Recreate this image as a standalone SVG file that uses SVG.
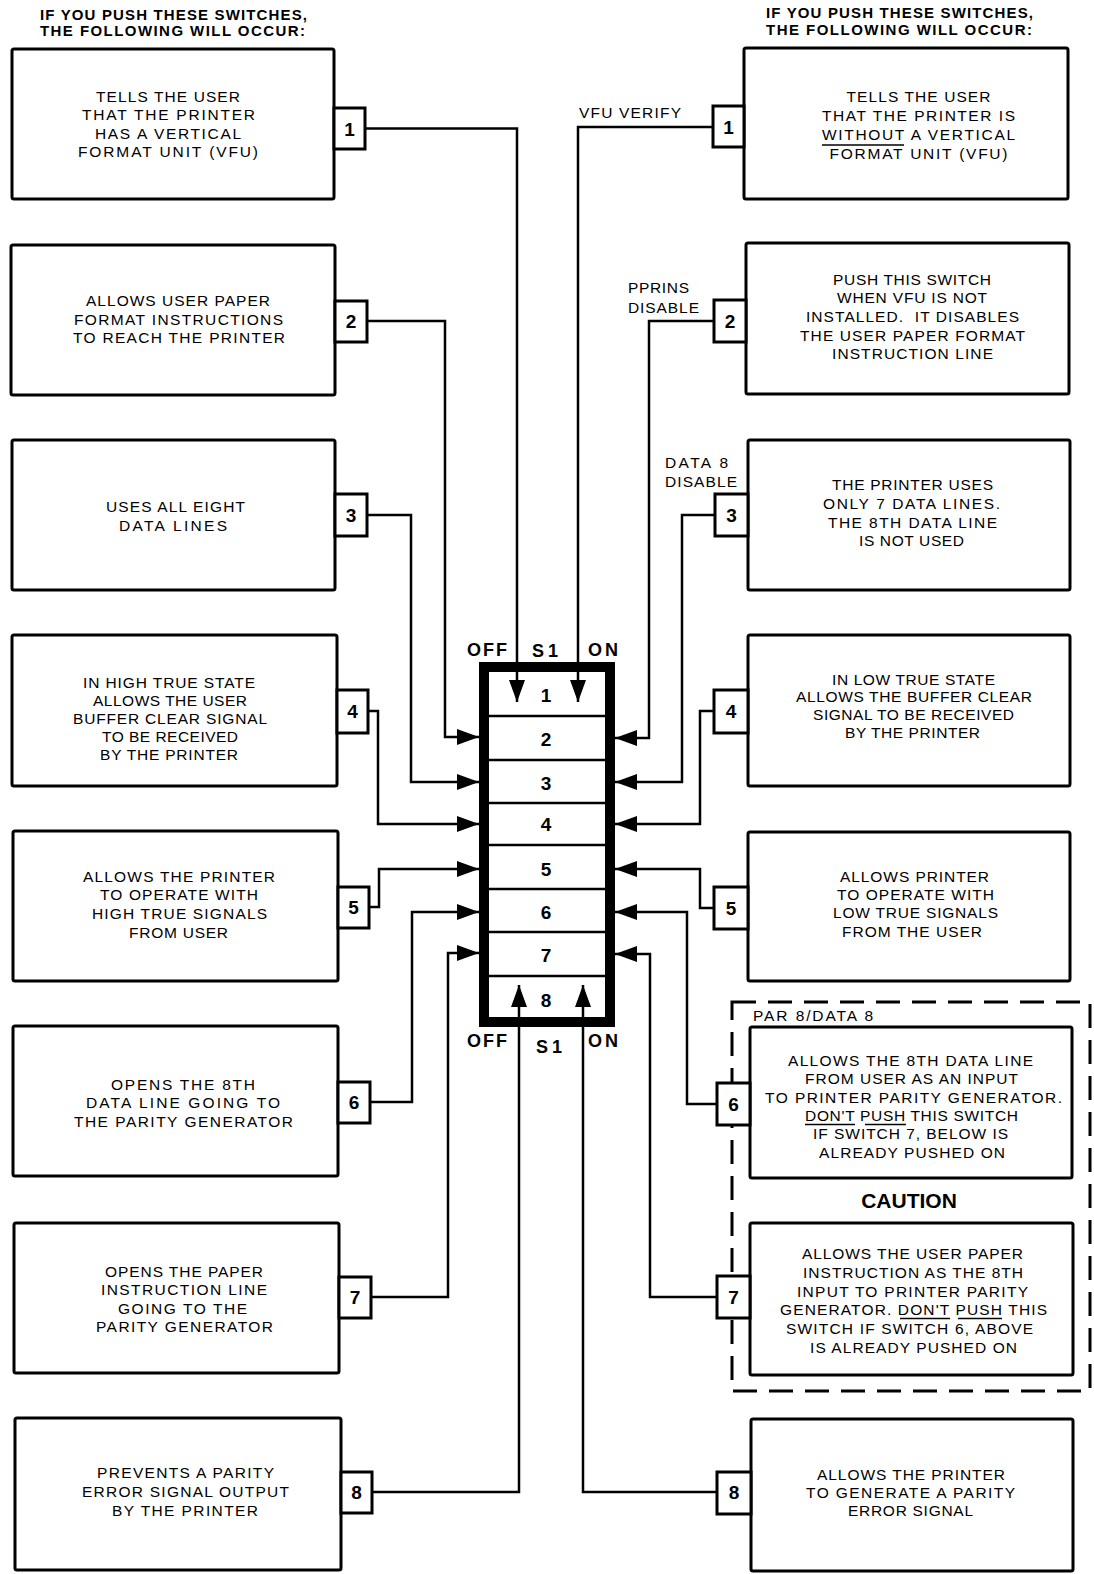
<svg xmlns="http://www.w3.org/2000/svg" width="1094" height="1574" viewBox="0 0 1094 1574">
<style>
.bg{fill:#fff}
.box{fill:#fff;stroke:#000;stroke-width:3;stroke-linejoin:round}
.tab{fill:#fff;stroke:#000;stroke-width:3}
.t{font-family:"Liberation Sans",Arial,sans-serif;font-size:15.5px;fill:#000}
.h{font-family:"Liberation Sans",Arial,sans-serif;font-size:15px;font-weight:bold;fill:#000}
.n{font-family:"Liberation Sans",Arial,sans-serif;font-size:19px;font-weight:bold;fill:#000;text-anchor:middle}
.s{font-family:"Liberation Sans",Arial,sans-serif;font-size:18px;font-weight:bold;fill:#000}
.ul{stroke:#000;stroke-width:1.6}
.conn{fill:none;stroke:#000;stroke-width:2.5;marker-end:url(#ah)}
.dash{fill:none;stroke:#000;stroke-width:3;stroke-dasharray:24 12}
</style>
<defs>
<marker id="ah" markerUnits="userSpaceOnUse" markerWidth="22" markerHeight="16" refX="22" refY="8" orient="auto"><path d="M0,0 L22,8 L0,16 Z" fill="#000"/></marker>
</defs>
<rect class="bg" x="0" y="0" width="1094" height="1574"/>

<g id="headers">
<text class="h" x="40" y="20" textLength="267" lengthAdjust="spacing">IF YOU PUSH THESE SWITCHES,</text>
<text class="h" x="40" y="36" textLength="265" lengthAdjust="spacing">THE FOLLOWING WILL OCCUR:</text>
<text class="h" x="766" y="18" textLength="267" lengthAdjust="spacing">IF YOU PUSH THESE SWITCHES,</text>
<text class="h" x="766" y="35" textLength="266" lengthAdjust="spacing">THE FOLLOWING WILL OCCUR:</text>
</g>

<g id="dashed-group">
<rect class="dash" x="732" y="1002" width="358" height="389"/>
<text class="t" x="753" y="1021" textLength="120" lengthAdjust="spacing">PAR 8/DATA 8</text>
<text x="909" y="1208" font-family="Liberation Sans, Arial, sans-serif" font-size="21" font-weight="bold" text-anchor="middle">CAUTION</text>
</g>

<g id="switch">
<rect x="484" y="667" width="126" height="355" fill="#fff" stroke="#000" stroke-width="10"/>
<g stroke="#000" stroke-width="2.5">
<line x1="489" y1="716" x2="605" y2="716"/>
<line x1="489" y1="760" x2="605" y2="760"/>
<line x1="489" y1="803" x2="605" y2="803"/>
<line x1="489" y1="845" x2="605" y2="845"/>
<line x1="489" y1="889" x2="605" y2="889"/>
<line x1="489" y1="932" x2="605" y2="932"/>
<line x1="489" y1="976" x2="605" y2="976"/>
</g>
<text class="n" x="546" y="702">1</text>
<text class="n" x="546" y="746">2</text>
<text class="n" x="546" y="790">3</text>
<text class="n" x="546" y="831">4</text>
<text class="n" x="546" y="876">5</text>
<text class="n" x="546" y="919">6</text>
<text class="n" x="546" y="962">7</text>
<text class="n" x="546" y="1007">8</text>
<text class="s" x="467" y="656" letter-spacing="2">OFF</text>
<text class="s" x="532" y="657" font-size="25" letter-spacing="4">S1</text>
<text class="s" x="588" y="656" letter-spacing="3">ON</text>
<text class="s" x="467" y="1047" letter-spacing="2">OFF</text>
<text class="s" x="536" y="1053" font-size="25" letter-spacing="4">S1</text>
<text class="s" x="588" y="1047" letter-spacing="3">ON</text>
</g>

<g id="L1">
<rect class="box" x="12" y="49" width="322" height="150" rx="2"/>
<rect class="tab" x="334" y="108" width="31" height="41"/>
<text class="n" x="349.5" y="135.5">1</text>
<text class="t" x="96" y="102" textLength="144" lengthAdjust="spacing">TELLS THE USER</text>
<text class="t" x="82" y="120" textLength="173" lengthAdjust="spacing">THAT THE PRINTER</text>
<text class="t" x="95" y="138.5" textLength="146" lengthAdjust="spacing">HAS A VERTICAL</text>
<text class="t" x="78" y="157" textLength="180" lengthAdjust="spacing">FORMAT UNIT (VFU)</text>
</g>
<g id="L2">
<rect class="box" x="11" y="245" width="324" height="150" rx="2"/>
<rect class="tab" x="335" y="301" width="32" height="41"/>
<text class="n" x="351" y="328">2</text>
<text class="t" x="86" y="306" textLength="184" lengthAdjust="spacing">ALLOWS USER PAPER</text>
<text class="t" x="74" y="324.5" textLength="209" lengthAdjust="spacing">FORMAT INSTRUCTIONS</text>
<text class="t" x="73" y="343" textLength="212" lengthAdjust="spacing">TO REACH THE PRINTER</text>
</g>
<g id="L3">
<rect class="box" x="12" y="440" width="323" height="150" rx="2"/>
<rect class="tab" x="335" y="494" width="32" height="42"/>
<text class="n" x="351" y="522">3</text>
<text class="t" x="106" y="512" textLength="139" lengthAdjust="spacing">USES ALL EIGHT</text>
<text class="t" x="119" y="530.5" textLength="108" lengthAdjust="spacing">DATA LINES</text>
</g>
<g id="L4">
<rect class="box" x="12" y="635" width="325" height="151" rx="2"/>
<rect class="tab" x="337" y="690" width="31" height="43"/>
<text class="n" x="352.5" y="718">4</text>
<text class="t" x="83" y="688" textLength="172" lengthAdjust="spacing">IN HIGH TRUE STATE</text>
<text class="t" x="93" y="706" textLength="154" lengthAdjust="spacing">ALLOWS THE USER</text>
<text class="t" x="73" y="723.5" textLength="194" lengthAdjust="spacing">BUFFER CLEAR SIGNAL</text>
<text class="t" x="102" y="741.5" textLength="136" lengthAdjust="spacing">TO BE RECEIVED</text>
<text class="t" x="100" y="759.5" textLength="138" lengthAdjust="spacing">BY THE PRINTER</text>
</g>
<g id="L5">
<rect class="box" x="13" y="831" width="325" height="150" rx="2"/>
<rect class="tab" x="338" y="887" width="31" height="41"/>
<text class="n" x="353.5" y="914">5</text>
<text class="t" x="83" y="882" textLength="192" lengthAdjust="spacing">ALLOWS THE PRINTER</text>
<text class="t" x="100" y="900" textLength="158" lengthAdjust="spacing">TO OPERATE WITH</text>
<text class="t" x="92" y="919" textLength="175" lengthAdjust="spacing">HIGH TRUE SIGNALS</text>
<text class="t" x="129" y="938" textLength="99" lengthAdjust="spacing">FROM USER</text>
</g>
<g id="L6">
<rect class="box" x="13" y="1026" width="325" height="150" rx="2"/>
<rect class="tab" x="338" y="1082" width="32" height="41"/>
<text class="n" x="354" y="1109">6</text>
<text class="t" x="111" y="1089.5" textLength="144" lengthAdjust="spacing">OPENS THE 8TH</text>
<text class="t" x="86" y="1108" textLength="194" lengthAdjust="spacing">DATA LINE GOING TO</text>
<text class="t" x="74" y="1126.5" textLength="219" lengthAdjust="spacing">THE PARITY GENERATOR</text>
</g>
<g id="L7">
<rect class="box" x="14" y="1223" width="325" height="150" rx="2"/>
<rect class="tab" x="339" y="1277" width="32" height="41"/>
<text class="n" x="355" y="1304">7</text>
<text class="t" x="105" y="1276.5" textLength="158" lengthAdjust="spacing">OPENS THE PAPER</text>
<text class="t" x="101" y="1294.5" textLength="166" lengthAdjust="spacing">INSTRUCTION LINE</text>
<text class="t" x="118" y="1313.5" textLength="129" lengthAdjust="spacing">GOING TO THE</text>
<text class="t" x="96" y="1331.5" textLength="177" lengthAdjust="spacing">PARITY GENERATOR</text>
</g>
<g id="L8">
<rect class="box" x="15" y="1418" width="326" height="152" rx="2"/>
<rect class="tab" x="341" y="1472" width="31" height="41"/>
<text class="n" x="356.5" y="1499">8</text>
<text class="t" x="97" y="1477.5" textLength="177" lengthAdjust="spacing">PREVENTS A PARITY</text>
<text class="t" x="82" y="1497" textLength="207" lengthAdjust="spacing">ERROR SIGNAL OUTPUT</text>
<text class="t" x="112" y="1515.5" textLength="146" lengthAdjust="spacing">BY THE PRINTER</text>
</g>

<g id="R1">
<rect class="box" x="744" y="48" width="324" height="151" rx="2"/>
<rect class="tab" x="713" y="106" width="31" height="41"/>
<text class="n" x="728.5" y="134">1</text>
<text class="t" x="846.5" y="102" textLength="144" lengthAdjust="spacing">TELLS THE USER</text>
<text class="t" x="822" y="121" textLength="193" lengthAdjust="spacing">THAT THE PRINTER IS</text>
<text class="t" x="822" y="139.5" textLength="193" lengthAdjust="spacing">WITHOUT A VERTICAL</text>
<line class="ul" x1="822" y1="145" x2="904" y2="145"/>
<text class="t" x="829.5" y="158.5" textLength="178" lengthAdjust="spacing">FORMAT UNIT (VFU)</text>
<text class="t" x="579" y="118" textLength="102" lengthAdjust="spacing">VFU VERIFY</text>
</g>
<g id="R2">
<rect class="box" x="746" y="243" width="323" height="151" rx="2"/>
<rect class="tab" x="714" y="300" width="32" height="42"/>
<text class="n" x="730" y="328">2</text>
<text class="t" x="833" y="285" textLength="158" lengthAdjust="spacing">PUSH THIS SWITCH</text>
<text class="t" x="837" y="303" textLength="150" lengthAdjust="spacing">WHEN VFU IS NOT</text>
<text class="t" x="806" y="322" textLength="213" lengthAdjust="spacing" xml:space="preserve">INSTALLED.  IT DISABLES</text>
<text class="t" x="800" y="341" textLength="225" lengthAdjust="spacing">THE USER PAPER FORMAT</text>
<text class="t" x="832" y="359" textLength="161" lengthAdjust="spacing">INSTRUCTION LINE</text>
<text class="t" x="628" y="293" textLength="61" lengthAdjust="spacing">PPRINS</text>
<text class="t" x="628" y="313" textLength="71" lengthAdjust="spacing">DISABLE</text>
</g>
<g id="R3">
<rect class="box" x="748" y="440" width="322" height="150" rx="2"/>
<rect class="tab" x="715" y="494" width="33" height="42"/>
<text class="n" x="731.5" y="522">3</text>
<text class="t" x="832" y="490" textLength="161" lengthAdjust="spacing">THE PRINTER USES</text>
<text class="t" x="823" y="509" textLength="177" lengthAdjust="spacing">ONLY 7 DATA LINES.</text>
<text class="t" x="828" y="528" textLength="169" lengthAdjust="spacing">THE 8TH DATA LINE</text>
<text class="t" x="859" y="546" textLength="105" lengthAdjust="spacing">IS NOT USED</text>
<text class="t" x="665" y="468" textLength="63" lengthAdjust="spacing">DATA 8</text>
<text class="t" x="665" y="487" textLength="72" lengthAdjust="spacing">DISABLE</text>
</g>
<g id="R4">
<rect class="box" x="748" y="635" width="322" height="151" rx="2"/>
<rect class="tab" x="714" y="690" width="34" height="43"/>
<text class="n" x="731" y="718">4</text>
<text class="t" x="832" y="685" textLength="163" lengthAdjust="spacing">IN LOW TRUE STATE</text>
<text class="t" x="796" y="702" textLength="236" lengthAdjust="spacing">ALLOWS THE BUFFER CLEAR</text>
<text class="t" x="813" y="720" textLength="201" lengthAdjust="spacing">SIGNAL TO BE RECEIVED</text>
<text class="t" x="845" y="738" textLength="135" lengthAdjust="spacing">BY THE PRINTER</text>
</g>
<g id="R5">
<rect class="box" x="748" y="832" width="322" height="149" rx="2"/>
<rect class="tab" x="714" y="887" width="34" height="42"/>
<text class="n" x="731" y="915">5</text>
<text class="t" x="840" y="882" textLength="149" lengthAdjust="spacing">ALLOWS PRINTER</text>
<text class="t" x="837" y="900" textLength="157" lengthAdjust="spacing">TO OPERATE WITH</text>
<text class="t" x="833" y="918" textLength="165" lengthAdjust="spacing">LOW TRUE SIGNALS</text>
<text class="t" x="842" y="937" textLength="140" lengthAdjust="spacing">FROM THE USER</text>
</g>
<g id="R6">
<rect class="box" x="750" y="1027" width="322" height="151" rx="2"/>
<rect class="tab" x="717" y="1083" width="33" height="42"/>
<text class="n" x="733.5" y="1111">6</text>
<text class="t" x="788" y="1066" textLength="245" lengthAdjust="spacing">ALLOWS THE 8TH DATA LINE</text>
<text class="t" x="805" y="1084" textLength="213" lengthAdjust="spacing">FROM USER AS AN INPUT</text>
<text class="t" x="765" y="1103" textLength="297" lengthAdjust="spacing">TO PRINTER PARITY GENERATOR.</text>
<text class="t" x="805" y="1121" textLength="213" lengthAdjust="spacing">DON'T PUSH THIS SWITCH</text>
<line class="ul" x1="805" y1="1124.5" x2="855" y2="1124.5"/>
<line class="ul" x1="865" y1="1124.5" x2="906" y2="1124.5"/>
<text class="t" x="813" y="1139" textLength="195" lengthAdjust="spacing">IF SWITCH 7, BELOW IS</text>
<text class="t" x="819" y="1158" textLength="186" lengthAdjust="spacing">ALREADY PUSHED ON</text>
</g>
<g id="R7">
<rect class="box" x="750" y="1223" width="323" height="152" rx="2"/>
<rect class="tab" x="717" y="1276" width="33" height="42"/>
<text class="n" x="733.5" y="1304">7</text>
<text class="t" x="802" y="1259" textLength="221" lengthAdjust="spacing">ALLOWS THE USER PAPER</text>
<text class="t" x="803" y="1278" textLength="220" lengthAdjust="spacing">INSTRUCTION AS THE 8TH</text>
<text class="t" x="797" y="1297" textLength="231" lengthAdjust="spacing">INPUT TO PRINTER PARITY</text>
<text class="t" x="780" y="1315" textLength="267" lengthAdjust="spacing">GENERATOR. DON'T PUSH THIS</text>
<line class="ul" x1="900" y1="1318.5" x2="950" y2="1318.5"/>
<line class="ul" x1="958" y1="1318.5" x2="1002" y2="1318.5"/>
<text class="t" x="786" y="1334" textLength="247" lengthAdjust="spacing">SWITCH IF SWITCH 6, ABOVE</text>
<text class="t" x="810" y="1353" textLength="207" lengthAdjust="spacing">IS ALREADY PUSHED ON</text>
</g>
<g id="R8">
<rect class="box" x="751" y="1419" width="322" height="152" rx="2"/>
<rect class="tab" x="717" y="1472" width="34" height="42"/>
<text class="n" x="734" y="1499">8</text>
<text class="t" x="817" y="1479.5" textLength="188" lengthAdjust="spacing">ALLOWS THE PRINTER</text>
<text class="t" x="806" y="1497.5" textLength="209" lengthAdjust="spacing">TO GENERATE A PARITY</text>
<text class="t" x="848" y="1516" textLength="125" lengthAdjust="spacing">ERROR SIGNAL</text>
</g>

<g id="connectors">
<path class="conn" d="M365,128.5 H517 V702"/>
<path class="conn" d="M367,321 H445 V737 H479"/>
<path class="conn" d="M367,515 H411 V782 H479"/>
<path class="conn" d="M368,711 H378 V824 H479"/>
<path class="conn" d="M369,907 H379 V869 H479"/>
<path class="conn" d="M370,1102 H412 V912 H479"/>
<path class="conn" d="M371,1297 H448 V953 H479"/>
<path class="conn" d="M372,1492 H519 V985"/>
<path class="conn" d="M713,127 H578 V702"/>
<path class="conn" d="M714,321 H649 V738 H615"/>
<path class="conn" d="M715,515 H682 V782 H615"/>
<path class="conn" d="M714,711 H700 V824 H615"/>
<path class="conn" d="M714,908 H700 V869 H615"/>
<path class="conn" d="M717,1104 H687 V912 H615"/>
<path class="conn" d="M717,1297 H650 V954 H615"/>
<path class="conn" d="M717,1492 H583 V985"/>
</g>
</svg>
